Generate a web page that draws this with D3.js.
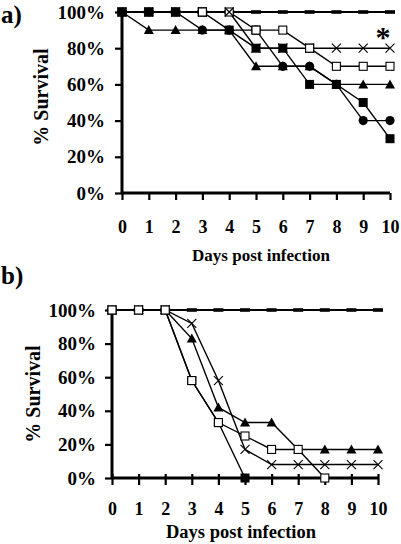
<!DOCTYPE html>
<html><head><meta charset="utf-8">
<script src="https://cdn.jsdelivr.net/npm/d3@7"></script>
<style>
html,body{margin:0;padding:0;background:#fff;}
svg{display:block;}
text{font-family:"Liberation Serif","Times New Roman",serif;font-weight:bold;fill:#000;}
</style></head>
<body>
<svg id="chart" width="401" height="544"></svg>
<script>
// ---- data ----
const days = [0,1,2,3,4,5,6,7,8,9,10];
const yTicks = [0,20,40,60,80,100];
const xLabel = "Days post infection";
const yLabel = "% Survival";

// Panel a
const aControl = [100,100,100,100,100,100,100,100,100,100,100];
const aFilledSquare = [100,100,100,100,90,80,80,60,60,50,30];
const aOpenSquare = [100,100,100,100,100,90,90,80,70,70,70];
const aTriangle = [100,90,90,90,90,70,70,70,60,60,60];
const aCircle = [100,100,100,90,90,90,70,70,60,40,40];
const aCross = [100,100,100,100,100,80,80,80,80,80,80];

// Panel b
const bControl = [100,100,100,100,100,100,100,100,100,100,100];
const bOpenSquare = [100,100,100,58,33,25,17,17,0];
const bFilledSquare = [100,100,100,58,33,0];
const bTriangle = [100,100,100,83,42,33,33,17,17,17,17];
const bCross = [100,100,100,92,58,17,8,8,8,8,8];

const svg = d3.select("#chart");

function drawMarker(g, type, x, y) {
  const s = 4.5;
  if (type === "filled") {
    g.append("rect").attr("x", x - s).attr("y", y - s).attr("width", 2*s).attr("height", 2*s)
      .attr("fill", "#000");
  } else if (type === "open") {
    g.append("rect").attr("x", x - 4).attr("y", y - 4).attr("width", 8).attr("height", 8)
      .attr("fill", "#fff").attr("stroke", "#000").attr("stroke-width", 1.1);
  } else if (type === "triangle") {
    g.append("path").attr("d", `M${x},${y-5}L${x+5},${y+4}L${x-5},${y+4}Z`).attr("fill", "#000");
  } else if (type === "circle") {
    g.append("circle").attr("cx", x).attr("cy", y).attr("r", 4.6).attr("fill", "#000");
  } else if (type === "cross") {
    g.append("path").attr("d", `M${x-4.5},${y-4.5}L${x+4.5},${y+4.5}M${x-4.5},${y+4.5}L${x+4.5},${y-4.5}`)
      .attr("stroke", "#000").attr("stroke-width", 1.1).attr("fill", "none");
  } else if (type === "dash") {
    g.append("rect").attr("x", x - 5).attr("y", y - 1.8).attr("width", 10).attr("height", 3.6)
      .attr("fill", "#000");
  }
}

function panel(cfg) {
  const x = d3.scaleLinear().domain([0, 10]).range([cfg.x0, cfg.x1]);
  const y = d3.scaleLinear().domain([0, 100]).range([cfg.y0, cfg.y1]);
  const g = svg.append("g");

  // lines
  const line = d3.line().x((d, i) => x(days[i])).y(d => y(d));
  cfg.series.forEach(s => {
    g.append("path").datum(s.values).attr("d", line)
      .attr("fill", "none").attr("stroke", "#000")
      .attr("stroke-width", s.lw || 1.4);
  });

  // axes
  const yAxis = d3.axisLeft(y).tickValues(yTicks).tickFormat(d => d + "%")
    .tickSize(7).tickPadding(cfg.yPad);
  const ga = g.append("g").attr("transform", `translate(${cfg.x0},0)`).call(yAxis);
  ga.select(".domain").attr("d", `M0,${cfg.y0}V${cfg.y1}`).attr("stroke-width", 3).attr("stroke", "#000");
  ga.selectAll(".tick line").attr("stroke-width", 2.2).attr("stroke", "#000").attr("x2", -7).attr("x1", 1);
  ga.selectAll(".tick text").style("font-size", "19px").style("font-family", "Liberation Serif").style("font-weight", "bold").attr("fill", "#000");

  const xAxis = d3.axisBottom(x).tickValues(days).tickFormat(d3.format("d"))
    .tickSize(7).tickPadding(cfg.xPad);
  const gx = g.append("g").attr("transform", `translate(0,${cfg.y0})`).call(xAxis);
  gx.select(".domain").attr("d", `M${cfg.x0},0H${cfg.x1}`).attr("stroke-width", 3).attr("stroke", "#000");
  gx.selectAll(".tick line").attr("stroke-width", 2.2).attr("stroke", "#000").attr("y1", cfg.tickUp).attr("y2", 7);
  gx.selectAll(".tick text").style("font-size", "18px").style("font-family", "Liberation Serif").style("font-weight", "bold").attr("fill", "#000");

  // markers
  const mg = g.append("g");
  cfg.series.forEach(s => {
    s.values.forEach((v, i) => drawMarker(mg, s.marker, x(days[i]), y(v)));
  });
  (cfg.onTop || []).forEach(([name, i]) => {
    const s = cfg.series.find(t => t.name === name);
    drawMarker(mg, s.marker, x(days[i]), y(s.values[i]));
  });

  // labels
  svg.append("text").attr("x", cfg.xLabelX).attr("y", cfg.xLabelY).attr("text-anchor", "middle")
    .style("font-size", cfg.xLabelSize + "px").text(xLabel);
  svg.append("text").attr("transform", `translate(${cfg.yLabelX},${cfg.yLabelY}) rotate(-90)`)
    .attr("text-anchor", "middle").attr("dominant-baseline", "central")
    .style("font-size", "20px").text(yLabel);
  svg.append("text").attr("x", 1).attr("y", cfg.tagY).style("font-size", "25px").text(cfg.tag);
  return {x, y};
}

const pa = panel({
  x0: 122, x1: 390, y0: 193, y1: 12, yPad: 10, xPad: 20, tickUp: 0,
  xLabelX: 261, xLabelY: 261, xLabelSize: 17, yLabelX: 41, yLabelY: 97,
  tag: "a)", tagY: 23,
  series: [
    {name: "control", values: aControl, marker: "dash", lw: 2},
    {name: "open", values: aOpenSquare, marker: "open"},
    {name: "triangle", values: aTriangle, marker: "triangle"},
    {name: "circle", values: aCircle, marker: "circle"},
    {name: "cross", values: aCross, marker: "cross"},
    {name: "filled", values: aFilledSquare, marker: "filled"}
  ],
  onTop: [["open", 3], ["open", 5], ["cross", 6], ["open", 7]]
});
svg.append("text").attr("x", pa.x(10) - 7).attr("y", pa.y(80) - 1).attr("text-anchor", "middle")
  .style("font-size", "30px").text("*");

panel({
  x0: 112, x1: 378, y0: 478, y1: 310, yPad: 9, xPad: 17, tickUp: -4,
  xLabelX: 241, xLabelY: 538, xLabelSize: 18.5, yLabelX: 33, yLabelY: 394,
  tag: "b)", tagY: 284,
  series: [
    {name: "control", values: bControl, marker: "dash", lw: 2},
    {name: "filled", values: bFilledSquare, marker: "filled"},
    {name: "triangle", values: bTriangle, marker: "triangle"},
    {name: "cross", values: bCross, marker: "cross"},
    {name: "open", values: bOpenSquare, marker: "open"}
  ]
});
</script>
</body></html>
